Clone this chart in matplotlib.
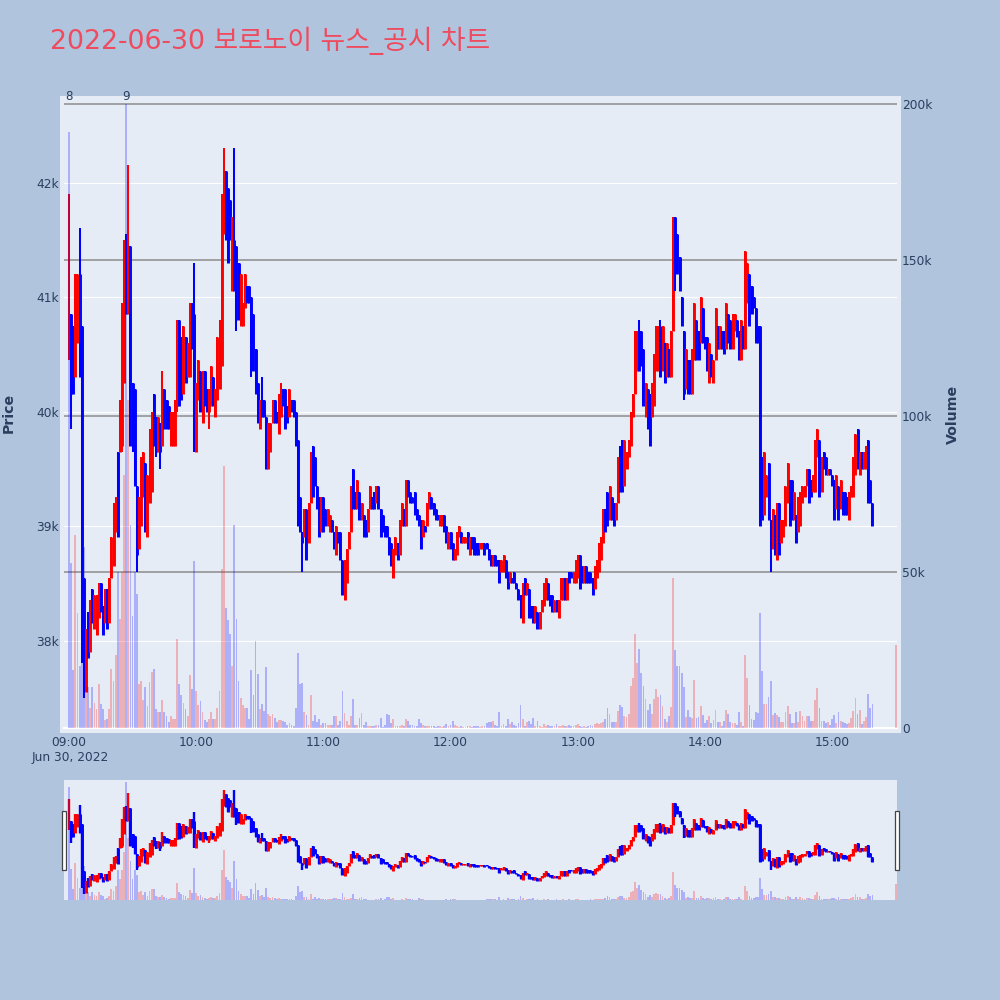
import matplotlib
matplotlib.use("Agg")
import matplotlib.pyplot as plt
from matplotlib.patches import Rectangle
from matplotlib.transforms import blended_transform_factory

plt.rcParams['font.family'] = ['DejaVu Sans', 'Noto Sans CJK KR']

# minute candles, 09:00 to 15:19, then the closing print at 15:30
minutes = list(range(380)) + [390]

opens = [
    40550, 40850, 40750, 40300, 40600, 41200, 40750, 38550, 37550, 38250,
    37900, 38450, 38100, 38050, 38200, 38500, 38300, 38150, 38450, 38150,
    38550, 38650, 38950, 39650, 39650, 39700, 40250, 41550, 40850, 41450,
    40250, 40200, 39350, 38800, 39000, 39250, 39550, 38900, 39200, 39300,
    40150, 39950, 39650, 39900, 39700, 40200, 40100, 40050, 39700, 39700,
    39700, 40050, 40800, 40650, 40150, 40650, 40300, 40300, 40950, 40850,
    39650, 40100, 40350, 39900, 40350, 40200, 40000, 40050, 40300, 39950,
    40100, 40200, 40400, 41550, 42100, 41950, 41850, 41050, 41500, 41450,
    41300, 40750, 40750, 40900, 41100, 41100, 41000, 40850, 40550, 40250,
    39850, 40100, 40100, 39950, 39500, 39650, 39900, 40100, 40000, 39800,
    39950, 40200, 40200, 40050, 39950, 40100, 40100, 40000, 39750, 39250,
    38950, 38900, 39150, 38850, 39200, 39700, 39600, 39350, 39250, 38950,
    39250, 39150, 39000, 38950, 39050, 38950, 38750, 38950, 38950, 38700,
    38350, 38500, 38800, 38950, 39500, 39300, 39150, 39300, 39050, 39100,
    39050, 38950, 39150, 39250, 39300, 39200, 39350, 39150, 39100, 39000,
    39000, 38900, 38850, 38550, 38750, 38850, 38750, 39000, 39150, 39000,
    39400, 39300, 39250, 39300, 39150, 39100, 39050, 38900, 39000, 39000,
    39150, 39250, 39200, 39150, 39100, 39000, 39000, 39100, 39000, 38800,
    38950, 38850, 38700, 38750, 38900, 38950, 38850, 38850, 38950, 38750,
    38900, 38900, 38850, 38850, 38800, 38800, 38850, 38850, 38800, 38750,
    38650, 38750, 38700, 38700, 38600, 38600, 38700, 38600, 38500, 38550,
    38600, 38500, 38450, 38400, 38150, 38550, 38400, 38450, 38300, 38300,
    38150, 38250, 38100, 38250, 38300, 38350, 38500, 38400, 38400, 38250,
    38350, 38200, 38350, 38350, 38550, 38350, 38600, 38600, 38500, 38500,
    38550, 38750, 38650, 38500, 38650, 38600, 38600, 38550, 38450, 38550,
    38600, 38700, 38850, 39150, 39300, 39050, 39250, 39200, 39050, 39200,
    39700, 39750, 39350, 39500, 39600, 39700, 39950, 40150, 40350, 40700,
    40700, 40550, 39950, 40200, 40150, 39950, 40050, 40350, 40350, 40750,
    40350, 40600, 40300, 40550, 40300, 40700, 41700, 41550, 41350, 41000,
    40700, 40200, 40450, 40450, 40150, 40450, 40800, 40700, 40600, 40900,
    40650, 40650, 40250, 40500, 40250, 40450, 40750, 40550, 40700, 40700,
    40550, 40850, 40800, 40550, 40700, 40800, 40700, 40450, 40750, 40550,
    40950, 41200, 41100, 41000, 40900, 40750, 40750, 39600, 39100, 39250,
    39550, 39050, 38800, 39100, 38700, 39200, 38850, 38900, 39000, 39200,
    39400, 39400, 39050, 39100, 38950, 39000, 39200, 39250, 39350, 39500,
    39400, 39300, 39300, 39600, 39750, 39300, 39650, 39600, 39450, 39500,
    39450, 39400, 39150, 39350, 39150, 39300, 39300, 39250, 39050, 39250,
    39250, 39450, 39850, 39450, 39650, 39500, 39500, 39750, 39400, 39200,
    39550,
]
closes = [
    40850, 40150, 40150, 41200, 41200, 40300, 38000, 37600, 38100, 37850,
    38350, 38150, 38400, 38400, 38500, 38250, 38050, 38450, 38100, 38550,
    38900, 39200, 39250, 38900, 40100, 40950, 41500, 40850, 41450, 39700,
    39700, 39350, 38750, 39250, 39600, 39650, 38950, 39450, 39850, 40000,
    39700, 39650, 39950, 39650, 40150, 39850, 39850, 39850, 40000, 40000,
    40100, 40800, 40050, 40100, 40750, 40250, 40600, 40950, 40550, 39900,
    40250, 40450, 40000, 40350, 40050, 40000, 40200, 40400, 40050, 40200,
    40650, 40800, 41900, 41950, 41500, 41300, 41500, 41700, 41050, 40800,
    40800, 41200, 40950, 41200, 40950, 40950, 40500, 40350, 40150, 39900,
    40100, 39950, 39950, 39500, 39900, 39900, 40100, 39900, 39900, 40150,
    40150, 40050, 39850, 39900, 40200, 40000, 39950, 39700, 39000, 38950,
    38850, 39150, 38700, 39200, 39650, 39250, 39350, 39150, 38900, 39250,
    38950, 39000, 39150, 39100, 38950, 38800, 39000, 38850, 38700, 38400,
    38700, 38800, 38950, 39350, 39150, 39150, 39400, 39050, 39200, 38900,
    38900, 39150, 39350, 39150, 39150, 39350, 39150, 38900, 38950, 38900,
    38900, 38750, 38650, 38800, 38900, 38700, 39050, 39200, 39000, 39400,
    39250, 39200, 39200, 39100, 39050, 39000, 38800, 39050, 38950, 39200,
    39300, 39150, 39100, 39050, 39050, 39100, 39100, 38950, 38850, 38950,
    38800, 38700, 38800, 38950, 39000, 38850, 38900, 38900, 38800, 38900,
    38800, 38750, 38750, 38750, 38850, 38850, 38750, 38800, 38700, 38650,
    38750, 38650, 38650, 38500, 38700, 38750, 38550, 38450, 38600, 38500,
    38500, 38450, 38350, 38200, 38500, 38400, 38500, 38200, 38200, 38150,
    38300, 38100, 38250, 38350, 38500, 38550, 38350, 38300, 38250, 38350,
    38250, 38350, 38550, 38550, 38350, 38550, 38500, 38550, 38600, 38700,
    38750, 38450, 38500, 38650, 38500, 38500, 38500, 38400, 38650, 38700,
    38800, 38900, 39150, 38950, 39000, 39350, 39050, 39000, 39200, 39600,
    39300, 39300, 39750, 39650, 39750, 40000, 40150, 40650, 40700, 40350,
    40400, 40050, 40250, 39850, 39700, 40250, 40500, 40750, 40750, 40300,
    40750, 40250, 40600, 40300, 40700, 41700, 41250, 41200, 41050, 40750,
    40150, 40550, 40150, 40150, 40550, 40950, 40450, 40450, 41000, 40600,
    40550, 40350, 40600, 40300, 40450, 40900, 40550, 40750, 40550, 40500,
    40950, 40600, 40550, 40850, 40850, 40650, 40450, 40800, 40550, 41400,
    41300, 40750, 40850, 40900, 40600, 40600, 39000, 39050, 39650, 39450,
    39050, 38950, 39150, 38750, 39200, 38750, 39050, 39050, 39350, 39550,
    39000, 39050, 39300, 38850, 39250, 39300, 39350, 39350, 39500, 39200,
    39250, 39450, 39750, 39850, 39250, 39600, 39500, 39450, 39500, 39450,
    39350, 39050, 39450, 39050, 39400, 39100, 39100, 39100, 39300, 39350,
    39600, 39800, 39500, 39650, 39500, 39650, 39700, 39200, 39200, 39000,
    39550,
]
# only the candles with a visible wick past the body
wick_high = {0: 41900, 5: 41600, 28: 42150, 44: 40350, 59: 41300, 73: 42300,
             78: 42300, 91: 40300, 100: 40250, 250: 38850, 267: 40700,
             269: 40800, 279: 40800}
wick_low = {0: 40450, 1: 39850, 6: 37800, 7: 37500, 25: 39650, 30: 39650,
            32: 38600, 41: 39600, 43: 39500, 51: 40000, 59: 39650, 66: 39850,
            79: 40700, 86: 40300, 110: 38600, 286: 41050, 290: 40100,
            331: 38600}
volumes_k = [
    191, 53, 18.5, 62, 37, 20, 75, 58, 16.5, 13,
    6.4, 13, 8, 6, 14, 7.7, 6, 2.5, 3, 6,
    19, 15, 23.5, 50, 35, 50, 81, 200, 105, 65,
    36, 50, 43, 14, 15, 9, 13, 7, 14.6, 18,
    19, 6, 5, 5, 9, 5, 4, 2, 4, 3,
    3, 28.5, 14, 10.7, 8, 6, 4, 17, 12.6, 53.6,
    12, 7.5, 8.5, 5, 2.7, 2, 3, 5, 3, 3,
    6.4, 12, 51, 84, 38.5, 34.5, 30, 20, 65, 35,
    15, 9.6, 7.5, 6.4, 6.4, 3, 18.5, 10.7, 28, 17.4,
    6, 7.8, 5.6, 19.5, 4.6, 3.7, 4.6, 3.2, 2, 2.7,
    2.5, 2.1, 1.8, 1.1, 1.7, 1.1, 0.8, 6.4, 24, 14,
    14.4, 5, 4.3, 1.1, 10.7, 2.1, 4.3, 1.8, 2.9, 1.1,
    1.6, 1.6, 0.9, 0.9, 1.1, 3.7, 3.7, 1.1, 2.1, 12,
    4.8, 2.1, 1.1, 3.7, 9.4, 1.1, 1.1, 3.2, 4.8, 1.1,
    1.8, 0.5, 0.5, 0.5, 0.5, 1.1, 1.1, 3.2, 0.2, 1.1,
    4.6, 4.3, 1.6, 2.9, 0.8, 0.8, 0.8, 1.1, 0.8, 2.9,
    2.1, 1.1, 1.1, 0.5, 0.5, 2.9, 1.6, 1.1, 0.5, 0.8,
    0.6, 0.8, 0.5, 0.4, 0.5, 0.6, 0.4, 0.6, 1.2, 0.8,
    1, 2.3, 1, 0.8, 0.4, 0.5, 0.3, 0.3, 0.5, 0.5,
    0.4, 0.5, 0.6, 0.8, 0.4, 0.5, 0.7, 1.5, 2, 1.8,
    2.4, 1, 0.6, 5, 0.8, 1.2, 0.7, 3, 1.4, 1.8,
    1, 0.8, 1.5, 7.5, 3, 0.8, 1.8, 2.2, 1.2, 3.2,
    0.8, 2.2, 0.5, 0.4, 1.2, 0.8, 1, 0.6, 0.5, 0.7,
    1.2, 0.8, 0.6, 1, 0.7, 0.6, 0.9, 0.6, 0.8, 1,
    1.2, 0.6, 0.4, 0.5, 0.3, 0.6, 1, 0.8, 1.2, 1.5,
    1.3, 1.5, 1.8, 2.9, 6.3, 4.4, 2, 1.8, 1.8, 5.3,
    7.4, 6.6, 3.7, 3.4, 4.5, 13.6, 16, 30, 20.7, 25.3,
    17.6, 13.6, 9.3, 5.9, 7.7, 4.5, 9.3, 12.5, 9.8, 10.7,
    7, 3, 2, 3.7, 6.8, 48, 25, 20, 19.8, 17.6,
    13.3, 3.4, 5.8, 3.4, 3.2, 15.4, 3.2, 3.6, 7.2, 4.2,
    1.6, 2.7, 3.7, 1.6, 2.7, 5.8, 1.8, 2, 0.6, 2.3,
    5.9, 4.5, 1.8, 1.6, 1.5, 1.1, 5, 1.8, 0.7, 23.5,
    16, 7.5, 2.9, 2.7, 5, 4.7, 37, 18.2, 7.7, 7.7,
    10, 15, 4.3, 4.7, 4.2, 3.6, 1.8, 2, 5.2, 6.9,
    4.5, 1.5, 1.6, 5, 2, 5.3, 3.7, 2.3, 3.7, 4,
    2.3, 2.1, 9, 12.8, 6.4, 2.3, 2.1, 1.6, 1.8, 1.1,
    2.9, 4.2, 1.6, 5, 2.2, 2, 1.5, 1.2, 1.5, 3.1,
    5.4, 9.5, 4.6, 5.8, 1.3, 2.3, 3.6, 10.9, 6.4, 7.7,
    26.6,
]

price_ticks = [38000, 39000, 40000, 41000, 42000]
price_labels = ['38k', '39k', '40k', '41k', '42k']
vol_ticks = [0, 50000, 100000, 150000, 200000]
vol_labels = ['0', '50k', '100k', '150k', '200k']
time_ticks = [0, 60, 120, 180, 240, 300, 360]
time_labels = ['09:00', '10:00', '11:00', '12:00', '13:00', '14:00', '15:00']
peak_labels = {0: '8', 27: '9'}

BG = '#B0C4DE'
PLOT_BG = '#E5ECF6'
FONT_COL = '#2a3f5f'
XLIM = (-2.36, 390.6)
PRICE_LIM = (37236, 42756)
VOL_LIM = (0, 202564)


def draw_marks(ax, ax_vol, wick_lw, body_lw):
    for i, m in enumerate(minutes):
        o, c = opens[i], closes[i]
        col = 'red' if c >= o else 'blue'
        hi = wick_high.get(i, max(o, c))
        lo = wick_low.get(i, min(o, c))
        ax.vlines(m, lo, hi, color=col, lw=wick_lw, zorder=3)
        ax.vlines(m, min(o, c), max(o, c), color=col, lw=body_lw, zorder=3)
        vcol = 'blue' if i == 0 else col
        ax_vol.bar(m, volumes_k[i] * 1000, width=0.85, color=vcol, alpha=0.25, lw=0)


fig = plt.figure(figsize=(10, 10), dpi=100, facecolor=BG)
fig.add_artist(Rectangle((0.060, 0.267), 0.841, 0.637, transform=fig.transFigure,
                         facecolor=PLOT_BG, edgecolor='none', zorder=-5))

# main panel
ax = fig.add_axes([0.064, 0.272, 0.833, 0.632])
ax.patch.set_visible(False)
ax2 = ax.twinx()
ax2.patch.set_visible(False)
ax.set_xlim(*XLIM)
ax.set_ylim(*PRICE_LIM)
ax2.set_ylim(*VOL_LIM)
for a in (ax, ax2):
    for s in a.spines.values():
        s.set_visible(False)
    a.tick_params(length=0, labelsize=8.8, labelcolor=FONT_COL)

ax.set_yticks(price_ticks, price_labels)
ax.tick_params(axis='y', pad=3.5)
ax2.set_yticks(vol_ticks, vol_labels)
ax2.tick_params(axis='y', pad=3.5)
ax.set_xticks(time_ticks, time_labels)
ax.tick_params(axis='x', pad=6)
ax.grid(axis='y', color='white', lw=0.8, zorder=0)
ax.set_axisbelow(True)
ax.grid(axis='x', visible=False)

# volume gridlines have to stay under the candles
trans = blended_transform_factory(ax.transAxes, ax2.transData)
for v in vol_ticks[1:]:
    ax.plot([0, 1], [v, v], transform=trans, color='#8c8c8c', lw=1.1, zorder=1)
ax.plot([0, 1], [0, 0], transform=trans, color='white', lw=1.6, zorder=1, clip_on=False)

draw_marks(ax, ax2, 1.45, 2.1)

trans_top = blended_transform_factory(ax.transData, ax.transAxes)
for i, txt in peak_labels.items():
    ax.text(minutes[i], 1.0, txt, transform=trans_top, ha='center', va='center',
            fontsize=8.6, color=FONT_COL, clip_on=False)

fig.text(0.050, 0.9595, '2022-06-30 보로노이 뉴스_공시 차트', fontsize=19.3, color='#EF4B5F',
         va='center', ha='left')
fig.text(0.070, 0.242, 'Jun 30, 2022', fontsize=8.8, color=FONT_COL, ha='center', va='center')
fig.text(0.009, 0.587, 'Price', fontsize=10.2, fontweight='bold', color=FONT_COL,
         rotation=90, ha='center', va='center')
fig.text(0.953, 0.586, 'Volume', fontsize=10.2, fontweight='bold', color=FONT_COL,
         rotation=90, ha='center', va='center')

# range slider
mini = fig.add_axes([0.064, 0.100, 0.833, 0.120], facecolor=PLOT_BG)
mini_vol = mini.twinx()
mini_vol.patch.set_visible(False)
mini.set_xlim(*XLIM)
mini.set_ylim(*PRICE_LIM)
mini_vol.set_ylim(*VOL_LIM)
for a in (mini, mini_vol):
    a.set_xticks([])
    a.set_yticks([])
    for s in a.spines.values():
        s.set_visible(False)
draw_marks(mini, mini_vol, 1.7, 2.1)

for left in (0.0617, 0.8953):
    fig.add_artist(Rectangle((left, 0.130), 0.004, 0.059, transform=fig.transFigure,
                             facecolor='white', edgecolor='#444444', lw=0.9, zorder=10))

fig.savefig('out.png', dpi=100, facecolor=BG)
